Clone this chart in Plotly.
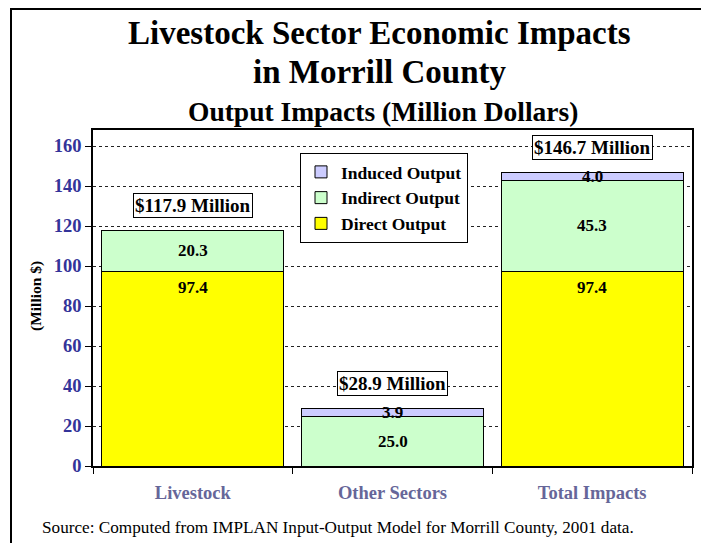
import plotly.graph_objects as go

categories = ["Livestock", "Other Sectors", "Total Impacts"]
direct_output = [97.4, 0.0, 97.4]
indirect_output = [20.3, 25.0, 45.3]
induced_output = [0.0, 3.9, 4.0]
total_labels = [117.9, 28.9, 146.7]
y_ticks = [0, 20, 40, 60, 80, 100, 120, 140, 160]

SERIF = "Liberation Serif, Times New Roman, serif"
# page body has an 8px margin; work in window pixels and convert
OFF = 8
W, H = 709 - OFF, 543 - OFF
PL, PR, PT, PB = 93, 692, 130, 466  # plot box in window pixels
L, R, T, B = PL - OFF, W - (PR - OFF), PT - OFF, H - (PB - OFF)
PW, PH = W - L - R, H - T - B


def px_x(p):
    return (p - PL) / PW


def px_y(p):
    return (PB - p) / PH


fig = go.Figure()
series = [
    ("Direct Output", direct_output, "#FFFF00"),
    ("Indirect Output", indirect_output, "#CCFFCC"),
    ("Induced Output", induced_output, "#CCCCFF"),
]
for name, vals, col in series:
    fig.add_trace(go.Bar(
        x=categories, y=vals, name=name,
        marker=dict(color=col, line=dict(color="black", width=1)),
        hoverinfo="x+y+name",
    ))

LBL = dict(family=SERIF, size=17, color="black")
annotations = []
for i, c in enumerate(categories):
    d, ind, inu = direct_output[i], indirect_output[i], induced_output[i]
    if d > 0:
        annotations.append(dict(x=c, y=d, yshift=-16, text=f"<b>{d:.1f}</b>", showarrow=False,
                                font=LBL, xref="x", yref="y"))
    if ind > 0:
        annotations.append(dict(x=c, y=d + ind / 2, text=f"<b>{ind:.1f}</b>", showarrow=False,
                                font=LBL, xref="x", yref="y"))
    if inu > 0:
        annotations.append(dict(x=c, y=d + ind + inu / 2, text=f"<b>{inu:.1f}</b>", showarrow=False,
                                font=LBL, xref="x", yref="y"))
    top = d + ind + inu
    annotations.append(dict(x=c, y=top, yshift=25, text=f"<b>${total_labels[i]:.1f} Million</b>",
                            showarrow=False, bordercolor="black", borderwidth=1, borderpad=1,
                            bgcolor="white",
                            font=dict(family=SERIF, size=19, color="black"), xref="x", yref="y"))

annotations += [
    dict(text="<b>Livestock Sector Economic Impacts</b>", x=px_x(379), y=px_y(33), xref="paper", yref="paper",
         showarrow=False, font=dict(family=SERIF, size=33, color="black"), xanchor="center", yanchor="middle"),
    dict(text="<b>in Morrill County</b>", x=px_x(379), y=px_y(72), xref="paper", yref="paper",
         showarrow=False, font=dict(family=SERIF, size=33, color="black"), xanchor="center", yanchor="middle"),
    dict(text="<b>Output Impacts (Million Dollars)</b>", x=px_x(383), y=px_y(111), xref="paper", yref="paper",
         showarrow=False, font=dict(family=SERIF, size=27.5, color="black"), xanchor="center", yanchor="middle"),
    dict(text="Source: Computed from IMPLAN Input-Output Model for Morrill County, 2001 data.",
         x=px_x(40), y=px_y(527), xref="paper", yref="paper", showarrow=False,
         font=dict(family=SERIF, size=17.2, color="black"), xanchor="left", yanchor="middle"),
    dict(text="<b>(Million $)</b>", x=px_x(36), y=px_y(296), xref="paper", yref="paper", showarrow=False,
         textangle=-90, font=dict(family=SERIF, size=15.5, color="black"), xanchor="center", yanchor="middle"),
]

fig.update_layout(
    width=W, height=H,
    margin=dict(l=L, r=R, t=T, b=B, pad=0, autoexpand=False),
    barmode="stack", bargap=0.09,
    paper_bgcolor="white", plot_bgcolor="white",
    font=dict(family=SERIF, color="black"),
    showlegend=True,
    legend=dict(
        x=px_x(300), y=px_y(153), xanchor="left", yanchor="top",
        traceorder="reversed",
        bordercolor="black", borderwidth=1, bgcolor="white",
        font=dict(family=SERIF, size=17.5, color="black", weight="bold"),
        itemwidth=30, tracegroupgap=0,
    ),
    annotations=annotations,
    shapes=[dict(type="rect", xref="paper", yref="paper",
                 x0=px_x(11), x1=px_x(707), y0=px_y(560), y1=px_y(9),
                 line=dict(color="black", width=2), fillcolor="rgba(0,0,0,0)", layer="above")],
)

fig.update_xaxes(
    automargin=False,
    showline=True, linecolor="black", linewidth=1.5, mirror=True,
    ticks="outside", tickson="boundaries", ticklen=6, tickcolor="black",
    tickfont=dict(family=SERIF, size=18.5, color="#666699", weight="bold"),
    ticklabelstandoff=9,
    showgrid=False,
)
fig.update_yaxes(
    automargin=False,
    range=[0, 168], tickvals=y_ticks,
    showline=True, linecolor="black", linewidth=1.5, mirror=True,
    ticks="outside", ticklen=6, tickcolor="black",
    tickfont=dict(family=SERIF, size=18.5, color="#333399", weight="bold"),
    showgrid=True, gridcolor="#222222", griddash="dot", gridwidth=1,
    zeroline=False,
)

fig.write_html("out.html")
